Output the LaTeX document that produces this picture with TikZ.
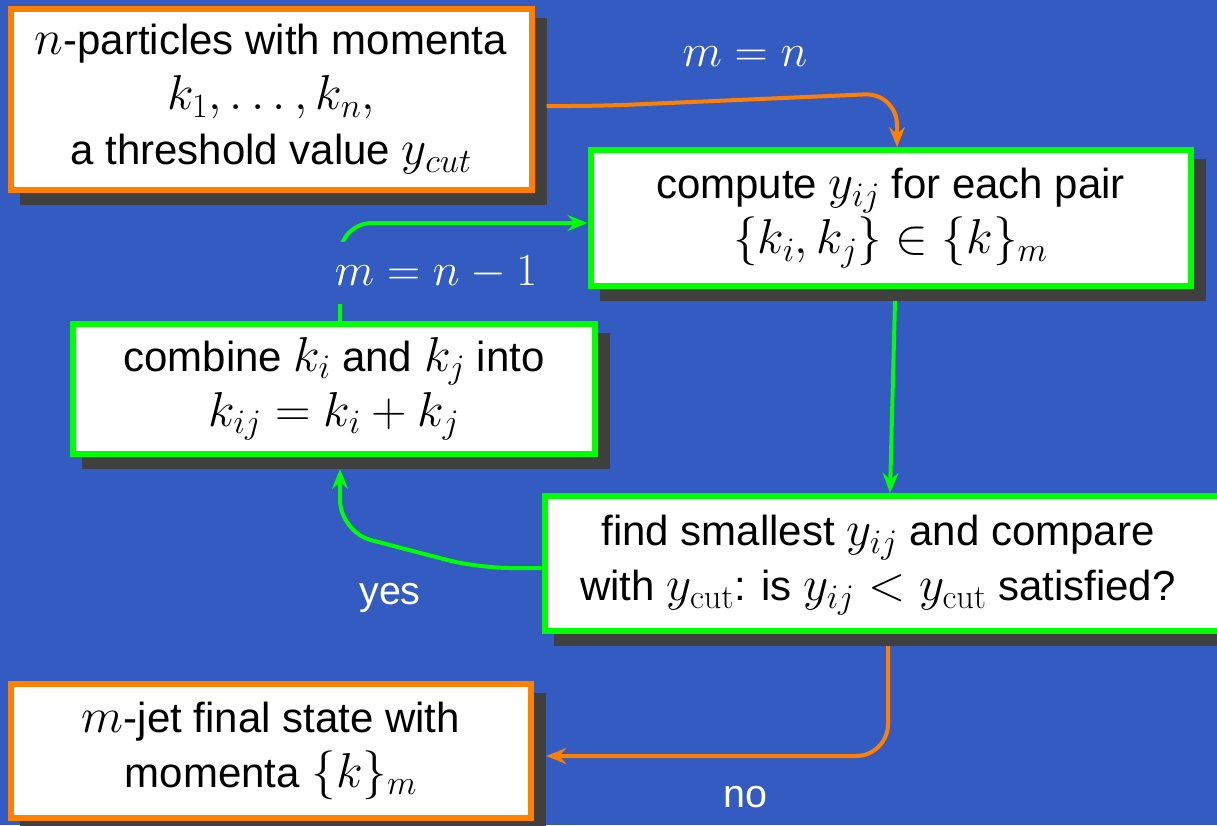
\RequirePackage{fix-cm}
\documentclass[tikz,border=0pt]{standalone}
\usepackage[no-math]{fontspec}
\setmainfont{Liberation Sans}[Scale=0.857]
\usetikzlibrary{arrows.meta,shadows}
\definecolor{bg}{RGB}{51,91,194}
\definecolor{boxorange}{RGB}{255,128,0}
\definecolor{boxgreen}{RGB}{0,255,0}
\definecolor{shadowgray}{RGB}{64,64,64}
\tikzset{
  bigfont/.style={font=\fontsize{49}{55}\selectfont},
  labelfont/.style={font=\fontsize{46}{54}\selectfont},
  box/.style={rectangle, draw, line width=6pt, fill=white, inner sep=0pt,
    align=center, bigfont,
    drop shadow={shadow xshift=12pt, shadow yshift=-12pt,
      fill=shadowgray, draw=shadowgray, opacity=1}},
  endbox/.style={box, draw=boxorange},
  stepbox/.style={box, draw=boxgreen},
  plain/.style={rectangle, inner sep=0pt, align=center, bigfont},
  flow/.style={line width=4pt, rounded corners=32pt,
    -{Stealth[length=20pt,width=16pt,inset=7pt]}},
  flowgreen/.style={flow, draw=boxgreen},
  floworange/.style={flow, draw=boxorange},
  lbl/.style={text=white, inner sep=0pt, labelfont}
}
\begin{document}
\begin{tikzpicture}[x=1pt,y=-1pt]
\useasboundingbox (0,0) rectangle (1217,825);
\fill[bg] (0,0) rectangle (1217,825);

% process boxes
\node[endbox, minimum width=521pt, minimum height=181pt] (b1) at (271,99.5)
  {$n$-particles with momenta\\ $k_1,\ldots,k_n,$\\ a threshold value $y_{cut}$};
\node[stepbox, minimum width=600pt, minimum height=136pt] (b2) at (890.5,218)
  {compute $y_{ij}$ for each pair\\ $\{k_i,k_j\}\in\{k\}_m$};
\node[stepbox, minimum width=522pt, minimum height=130pt] (b3) at (334,389)
  {combine $k_i$ and $k_j$ into\\ $k_{ij}=k_i+k_j$};
\node[stepbox, minimum width=690.5pt, minimum height=135.3pt] (b4) at (889.75,563.4) {};
\node[plain] (b4txt) at (878,565)
  {find smallest $y_{ij}$ and compare\\ with $y_{\mathrm{cut}}$: is $y_{ij}<y_{\mathrm{cut}}$ satisfied?};
\node[endbox, minimum width=520.5pt, minimum height=134pt] (b5) at (271,750.6)
  {$m$-jet final state with\\ momenta $\{k\}_m$};

% bend points
\coordinate (p1) at (600,106);
\coordinate (p2) at (897,93);
\coordinate (q1) at (340,223);
\coordinate (r1) at (478,568);
\coordinate (r2) at (340,532);
\coordinate (s1) at (888,756);

% connectors
\draw[floworange] ([xshift=12pt,yshift=-6.5pt]b1.east) -- (p1) -- (p2)
  -- ([xshift=6.5pt]b2.north);
\draw[flowgreen] ([xshift=4.5pt,yshift=-12pt]b2.south) -- ([xshift=0.25pt]b4.north);
\draw[flowgreen] ([xshift=6pt]b3.north) -- (q1) -- ([yshift=-5pt]b2.west);
\draw[flowgreen] ([yshift=-4.6pt]b4.west) -- (r1) -- (r2)
  -- ([xshift=6pt,yshift=-12pt]b3.south);
\draw[floworange] ([xshift=-1.75pt,yshift=-12pt]b4.south) -- (s1)
  -- ([xshift=12pt,yshift=-5.4pt]b5.east);

% connector labels
\node[lbl] (l1) at (745,57) {$m=n$};
\node[lbl, fill=bg, inner xsep=6pt, inner ysep=14pt] (l2) at (436,273) {$m=n-1$};
\node[lbl] (l3) at (390,598) {yes};
\node[lbl] (l4) at (745,797) {no};
\end{tikzpicture}
\end{document}
